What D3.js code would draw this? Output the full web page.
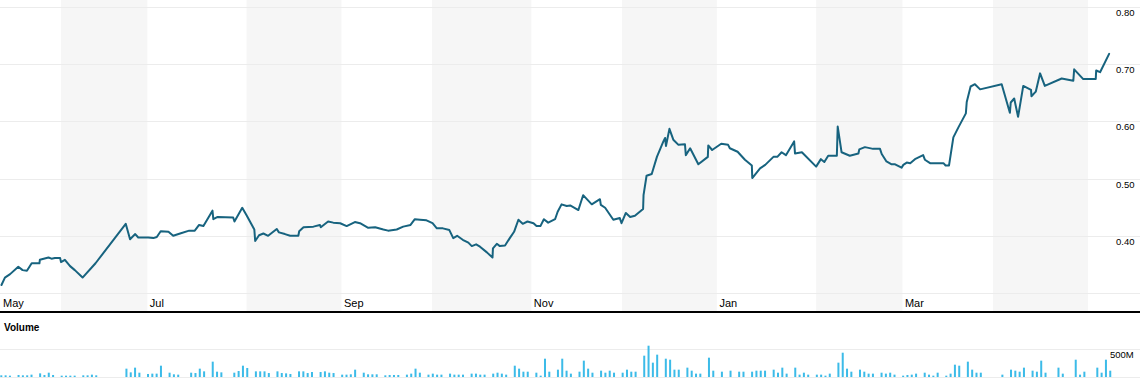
<!DOCTYPE html>
<html><head><meta charset="utf-8">
<script src="https://cdn.jsdelivr.net/npm/d3@7"></script>
<style>
body{margin:0;background:#fff}
svg{display:block}
text{font-family:"Liberation Sans",Arial,sans-serif;fill:#000}
</style>
</head><body>
<svg id="chart" width="1140" height="392"></svg>
<script>
// ---- data (x = weekday slot since 14 May 2013) ----
const monthNames  = ["May","Jun","Jul","Aug","Sep","Oct","Nov","Dec","Jan","Feb","Mar","Apr","May"];
const monthStart  = [0,14,34,57,79,100,123,144,166,189,209,230,252];
const monthLabels = ["May","","Jul","","Sep","","Nov","","Jan","","Mar","",""];
const priceTicks  = [0.4,0.5,0.6,0.7,0.8];
const priceGrid   = [0.3,0.4,0.5,0.6,0.7,0.8];
const volumeTicks = [500];
const volumeTickLabels = ["500M"];

const priceDay = [0.2,1.0,2.2,4.1,5.1,6.1,7.2,9.0,9.1,11.1,11.8,12.6,13.8,14.0,14.9,16.1,17.2,19.0,22.0,
29.0,30.0,31.2,31.9,34.2,35.4,36.2,37.1,38.9,40.0,41.6,43.7,45.0,46.0,47.0,49.1,49.3,50.3,53.9,54.2,
56.0,57.0,58.8,59.0,59.9,60.9,62.0,64.0,64.5,65.9,67.1,69.0,69.2,70.2,72.5,74.0,74.2,75.9,77.1,78.7,
80.2,82.1,83.3,85.2,86.8,88.7,89.8,91.8,93.3,95.0,96.0,97.2,98.7,100.1,101.1,102.5,104.0,104.9,105.8,
107.1,108.4,109.2,110.2,111.1,112.7,114.0,114.1,115.0,115.7,116.9,118.0,119.0,120.0,121.0,122.1,123.5,
124.2,125.1,125.9,126.9,128.5,129.1,130.0,131.2,132.0,133.9,135.0,137.0,138.9,139.1,140.1,142.0,143.5,
143.9,144.9,145.9,147.0,148.9,149.0,149.7,150.9,152.1,153.6,154.0,154.2,155.0,155.9,157.1,158.6,158.8,
159.8,161.7,163.9,164.0,164.9,167.0,168.6,169.0,170.8,172.5,174.1,174.2,176.0,177.2,179.1,180.0,181.0,
182.0,183.9,184.1,185.7,189.0,190.1,190.9,191.8,193.8,194.0,194.9,196.8,198.8,199.0,200.3,202.2,203.8,
204.2,205.3,206.5,207.3,208.8,209.2,210.0,210.8,211.9,213.8,214.2,215.4,217.3,218.5,219.0,219.8,220.8,
222.0,223.7,223.9,224.8,225.8,227.0,232.0,233.9,234.1,234.9,235.8,237.0,238.8,238.9,239.9,240.9,242.0,
245.9,248.6,248.8,250.9,253.8,253.9,254.8,256.9];
const priceValue = [.314,.327,.333,.346,.340,.339,.352,.352,.358,.362,.360,.361,.361,.354,.358,.347,.340,.327,.352,
.421,.394,.403,.397,.397,.396,.398,.408,.407,.400,.404,.409,.409,.419,.417,.444,.429,.433,.432,.425,
.449,.436,.411,.391,.401,.404,.400,.412,.406,.403,.400,.400,.408,.415,.416,.419,.415,.425,.423,.422,
.417,.424,.422,.414,.415,.411,.409,.411,.416,.419,.429,.428,.427,.422,.413,.413,.410,.396,.400,
.393,.388,.382,.385,.381,.371,.362,.378,.386,.382,.383,.396,.407,.428,.421,.425,.422,
.417,.417,.429,.423,.429,.442,.455,.452,.453,.445,.471,.455,.464,.454,.449,.428,.431,
.422,.440,.433,.435,.447,.471,.505,.508,.538,.565,.571,.557,.587,.568,.559,.560,.541,
.553,.525,.538,.558,.550,.561,.559,.553,.547,.533,.523,.501,.518,.524,.538,.538,.546,
.541,.565,.544,.546,.521,.534,.529,.540,.540,.591,.546,.540,.544,.551,.555,.552,.552,
.543,.530,.525,.525,.519,.524,.528,.527,.534,.541,.533,.527,.527,.527,.523,.523,.572,
.590,.614,.634,.661,.665,.656,.665,.615,.633,.640,.608,.662,.655,.644,.652,.684,.662,
.675,.671,.691,.674,.674,.689,.686,.718];

// volume in millions, one per weekday slot (null = no bar)
const volume = [30,30,24,null,36,30,30,42,null,65,36,77,36,null,24,24,24,24,null,30,
30,42,30,null,null,null,null,null,null,149,83,167,77,null,54,60,60,202,null,77,
48,42,null,null,77,71,149,101,null,274,95,83,null,null,77,107,202,161,null,101,
101,101,71,null,101,71,65,54,null,101,101,71,89,null,89,101,77,71,null,42,
42,48,131,null,77,48,48,48,null,30,36,36,36,null,42,60,149,77,null,42,
60,42,42,null,60,42,42,42,null,60,60,42,42,null,60,77,60,42,null,202,
149,95,95,null,77,24,327,95,null,131,327,113,60,null,95,292,149,77,null,113,
77,113,77,null,77,131,95,95,null,381,559,256,399,null,327,309,131,131,null,167,
113,60,60,null,345,113,null,95,null,113,null,95,95,null,95,113,113,113,null,131,
77,167,60,null,167,42,77,42,null,42,42,24,60,null,256,434,149,95,null,131,
95,60,60,null,77,60,77,42,null,24,36,42,60,null,77,42,24,77,null,24,
60,220,202,null,274,131,77,77,null,null,null,null,42,null,131,113,95,167,null,113,
95,292,77,null,null,167,60,null,null,309,42,95,null,null,167,77,309,113];

// ---- drawing ----
const W = 1140, H = 392;
const svg = d3.select("#chart");
const x = d3.scaleLinear().domain([0, 257]).range([0.6, 0.6 + 257 * 4.315]);
const y = d3.scaleLinear().domain([0.3, 0.8]).range([293, 7]);
const yv = d3.scaleLinear().domain([0, 500]).range([377, 349]);

svg.append("rect").attr("width", W).attr("height", H).attr("fill", "#fff");

// month bands
const bands = monthStart.map((s, i) => ({
  name: monthNames[i], label: monthLabels[i], start: s,
  end: i < monthStart.length - 1 ? monthStart[i + 1] : null, shaded: i % 2 === 1
}));
svg.append("g").selectAll("rect").data(bands.filter(b => b.shaded)).join("rect")
  .attr("x", d => x(d.start)).attr("y", 0)
  .attr("width", d => x(d.end) - x(d.start)).attr("height", 311)
  .attr("fill", "#f6f6f6");

// price grid
svg.append("g").selectAll("line").data(priceGrid).join("line")
  .attr("x1", 0).attr("x2", W)
  .attr("y1", d => Math.round(y(d)) + 0.5).attr("y2", d => Math.round(y(d)) + 0.5)
  .attr("stroke", "#ececec").attr("stroke-width", 1);

// month labels
svg.append("g").selectAll("text").data(bands.filter(b => b.label)).join("text")
  .attr("x", d => x(d.start) + 2.5).attr("y", 307)
  .attr("font-size", 11).text(d => d.label);

// price labels
svg.append("g").selectAll("text").data(priceTicks).join("text")
  .attr("x", 1116).attr("y", d => y(d) + 9)
  .attr("font-size", 9.5).text(d => d.toFixed(2));

// price line
const pts = priceDay.map((d, i) => [d, priceValue[i]]);
svg.append("path").datum(pts)
  .attr("fill", "none").attr("stroke", "#17637f").attr("stroke-width", 2)
  .attr("stroke-linejoin", "round").attr("stroke-linecap", "round")
  .attr("d", d3.line().x(d => x(d[0])).y(d => y(d[1])));

// separator
svg.append("rect").attr("x", 0).attr("y", 311).attr("width", W).attr("height", 2).attr("fill", "#000");

// volume panel
svg.append("text").attr("x", 4).attr("y", 331).attr("font-size", 10).attr("font-weight", "bold").text("Volume");
svg.append("g").selectAll("line").data([0].concat(volumeTicks)).join("line")
  .attr("x1", 0).attr("x2", W)
  .attr("y1", d => Math.round(yv(d)) + 0.5).attr("y2", d => Math.round(yv(d)) + 0.5)
  .attr("stroke", "#ececec");
const vols = volume.map((v, i) => ({ i, v })).filter(d => d.v != null);
svg.append("g").selectAll("rect").data(vols).join("rect")
  .attr("x", d => x(d.i) - 0.3).attr("width", 2)
  .attr("y", d => yv(d.v)).attr("height", d => yv(0) - yv(d.v))
  .attr("fill", "#3cbbe8");
svg.append("g").selectAll("text").data(volumeTicks).join("text")
  .attr("x", 1110).attr("y", d => yv(d) + 9)
  .attr("font-size", 9.5).text((d, i) => volumeTickLabels[i]);
</script>
</body></html>
